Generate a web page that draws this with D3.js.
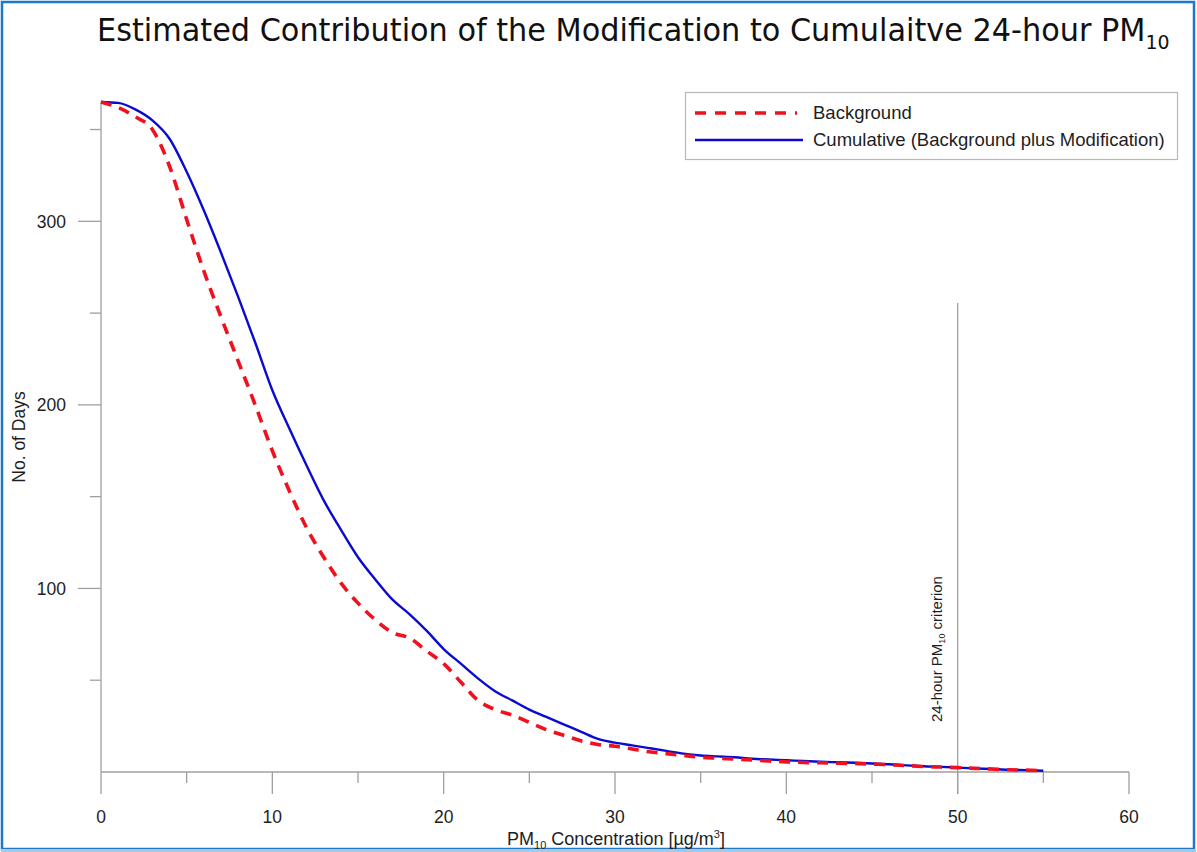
<!DOCTYPE html>
<html>
<head>
<meta charset="utf-8">
<script src="https://cdn.jsdelivr.net/npm/d3@7"></script>
<style>
  html, body { margin: 0; padding: 0; background: #fff; }
  svg { display: block; }
</style>
</head>
<body>
<svg id="chart" width="1197" height="852"></svg>
<script>
// PM10 concentration (µg/m³) at which each count is read
const concentration = [0,1,2,3,4,5,6,7,8,9,10,11,12,13,14,15,16,17,18,19,20,
  21,22,23,24,25,26,27,28,29,30,31,32,33,34,35,36,37,38,39,40,
  41,42,43,44,45,46,47,48,49,50,51,52,53,54,55];

// Number of days at or above each concentration: background only
const backgroundDays = [365,362,357,350,330,301,273,248,224,200,175,153,133,117,103,92,83,76,73,66,59,
  49,39,34,31,27,23,20,17,15,14,12.5,11,10,9,8,7.5,7,6.5,6,5.5,
  5.2,5,4.8,4.6,4.3,4,3.5,3,2.7,2.4,2,1.6,1.2,1,0.7];

// Number of days at or above each concentration: background plus modification
const cumulativeDays = [365,364.5,361,355,345,327,306,283,259,234,208,187,167,148,132,117,105,94,86,77,67,
  59,51,44,39,34,30,26,22,18,16,14.5,13,11.5,10,9,8.5,8,7.2,6.8,6.4,
  6,5.6,5.3,5,4.6,4.2,3.6,3.1,2.8,2.4,2,1.6,1.2,1,0.7];

const xMajorTicks = [0,10,20,30,40,50,60];
const xMinorTicks = [5,15,25,35,45,55];
const yMajorTicks = [100,200,300];
const yMinorTicks = [50,150,250,350];
const criterionValue = 50;

const seriesNames = ["Background", "Cumulative (Background plus Modification)"];

const svg = d3.select("#chart");
const font = "'Liberation Sans', Arial, sans-serif";
const axisColor = "#a0a0a0";
const textColor = "#1e1e1e";

const x = d3.scaleLinear().domain([0, 60]).range([101, 1129]);
const y = d3.scaleLinear().domain([0, 365]).range([772, 102]);

// outer frame
svg.append("rect").attr("x", 2).attr("y", 2).attr("width", 1192).attr("height", 847)
  .attr("fill", "none").attr("stroke", "#1f78c8").attr("stroke-width", 2.5);
svg.append("line").attr("x1", 1).attr("x2", 1196).attr("y1", 850.5).attr("y2", 850.5)
  .attr("stroke", "#a6c8e4").attr("stroke-width", 3);

// title
const title = svg.append("text")
  .attr("x", 97).attr("y", 41)
  .attr("font-family", "'DejaVu Sans Condensed', 'DejaVu Sans', sans-serif")
  .attr("font-size", 32).attr("fill", "#111");
title.append("tspan").text("Estimated Contribution of the Modification to Cumulaitve 24-hour PM");
title.append("tspan").attr("font-size", 20).attr("dy", 8).text("10");
{
  const w = title.node().getComputedTextLength();
  const target = 1170 - 97;
  title.attr("transform", `translate(97,0) scale(${target / w},1) translate(-97,0)`);
}

// axes
const gx = svg.append("g");
gx.append("line").attr("x1", x(0)).attr("x2", x(60)).attr("y1", y(0)).attr("y2", y(0))
  .attr("stroke", axisColor).attr("stroke-width", 1.3);
gx.selectAll("line.maj").data(xMajorTicks).join("line").attr("class", "maj")
  .attr("x1", d => x(d)).attr("x2", d => x(d)).attr("y1", y(0)).attr("y2", y(0) + 22)
  .attr("stroke", axisColor).attr("stroke-width", 1.3);
gx.selectAll("line.min").data(xMinorTicks).join("line").attr("class", "min")
  .attr("x1", d => x(d)).attr("x2", d => x(d)).attr("y1", y(0)).attr("y2", y(0) + 11)
  .attr("stroke", axisColor).attr("stroke-width", 1.3);
gx.selectAll("text").data(xMajorTicks).join("text")
  .attr("x", d => x(d)).attr("y", 823).attr("text-anchor", "middle")
  .attr("font-family", font).attr("font-size", 17.5).attr("fill", textColor).text(d => d);

const gy = svg.append("g");
gy.append("line").attr("x1", x(0)).attr("x2", x(0)).attr("y1", y(0)).attr("y2", y(365))
  .attr("stroke", axisColor).attr("stroke-width", 1.3);
gy.selectAll("line.maj").data(yMajorTicks).join("line").attr("class", "maj")
  .attr("x1", x(0) - 23).attr("x2", x(0)).attr("y1", d => y(d)).attr("y2", d => y(d))
  .attr("stroke", axisColor).attr("stroke-width", 1.3);
gy.selectAll("line.min").data(yMinorTicks).join("line").attr("class", "min")
  .attr("x1", x(0) - 11).attr("x2", x(0)).attr("y1", d => y(d)).attr("y2", d => y(d))
  .attr("stroke", axisColor).attr("stroke-width", 1.3);
gy.selectAll("text").data(yMajorTicks).join("text")
  .attr("x", 66).attr("y", d => y(d) + 6.5).attr("text-anchor", "end")
  .attr("font-family", font).attr("font-size", 17.5).attr("fill", textColor).text(d => d);

// axis titles
const xTitle = svg.append("text").attr("x", 616).attr("y", 845).attr("text-anchor", "middle")
  .attr("font-family", font).attr("font-size", 18).attr("fill", textColor);
xTitle.append("tspan").text("PM");
xTitle.append("tspan").attr("font-size", 11).attr("dy", 4).text("10");
xTitle.append("tspan").attr("dy", -4).text(" Concentration [µg/m");
xTitle.append("tspan").attr("font-size", 11).attr("dy", -7).text("3");
xTitle.append("tspan").attr("dy", 7).text("]");

svg.append("text").attr("transform", "translate(25,437) rotate(-90)").attr("text-anchor", "middle")
  .attr("font-family", font).attr("font-size", 17.5).attr("fill", textColor).text("No. of Days");

// criterion marker
svg.append("line").attr("x1", x(criterionValue)).attr("x2", x(criterionValue))
  .attr("y1", 303).attr("y2", y(0) + 22)
  .attr("stroke", axisColor).attr("stroke-width", 1.3);
const crit = svg.append("text").attr("transform", `translate(${x(criterionValue) - 16},722) rotate(-90)`)
  .attr("font-family", font).attr("font-size", 15).attr("fill", textColor);
crit.append("tspan").text("24-hour PM");
crit.append("tspan").attr("font-size", 9).attr("dy", 3).text("10");
crit.append("tspan").attr("dy", -3).text(" criterion");

// curves
const line = d3.line().curve(d3.curveMonotoneX);
const bgPts = concentration.map((c, i) => [x(c), y(backgroundDays[i])]);
const cumPts = concentration.map((c, i) => [x(c), y(cumulativeDays[i])]);

svg.append("path").attr("d", line(cumPts)).attr("fill", "none")
  .attr("stroke", "#0a0ad0").attr("stroke-width", 2.4);
svg.append("path").attr("d", line(bgPts)).attr("fill", "none")
  .attr("stroke", "#f0101e").attr("stroke-width", 3.6).attr("stroke-dasharray", "11,8");

// legend
const lg = svg.append("g");
lg.append("rect").attr("x", 685.5).attr("y", 92.5).attr("width", 492).attr("height", 67)
  .attr("fill", "#fff").attr("stroke", "#b8b8b8").attr("stroke-width", 1.2);
lg.append("line").attr("x1", 695).attr("x2", 797).attr("y1", 113).attr("y2", 113)
  .attr("stroke", "#f0101e").attr("stroke-width", 3.6).attr("stroke-dasharray", "11,9");
lg.append("line").attr("x1", 695).attr("x2", 803).attr("y1", 140).attr("y2", 140)
  .attr("stroke", "#0a0ad0").attr("stroke-width", 2.4);
lg.selectAll("text").data(seriesNames).join("text")
  .attr("x", 813).attr("y", (d, i) => 119 + i * 27)
  .attr("font-family", font).attr("font-size", 18.5).attr("fill", textColor).text(d => d);
</script>
</body>
</html>
